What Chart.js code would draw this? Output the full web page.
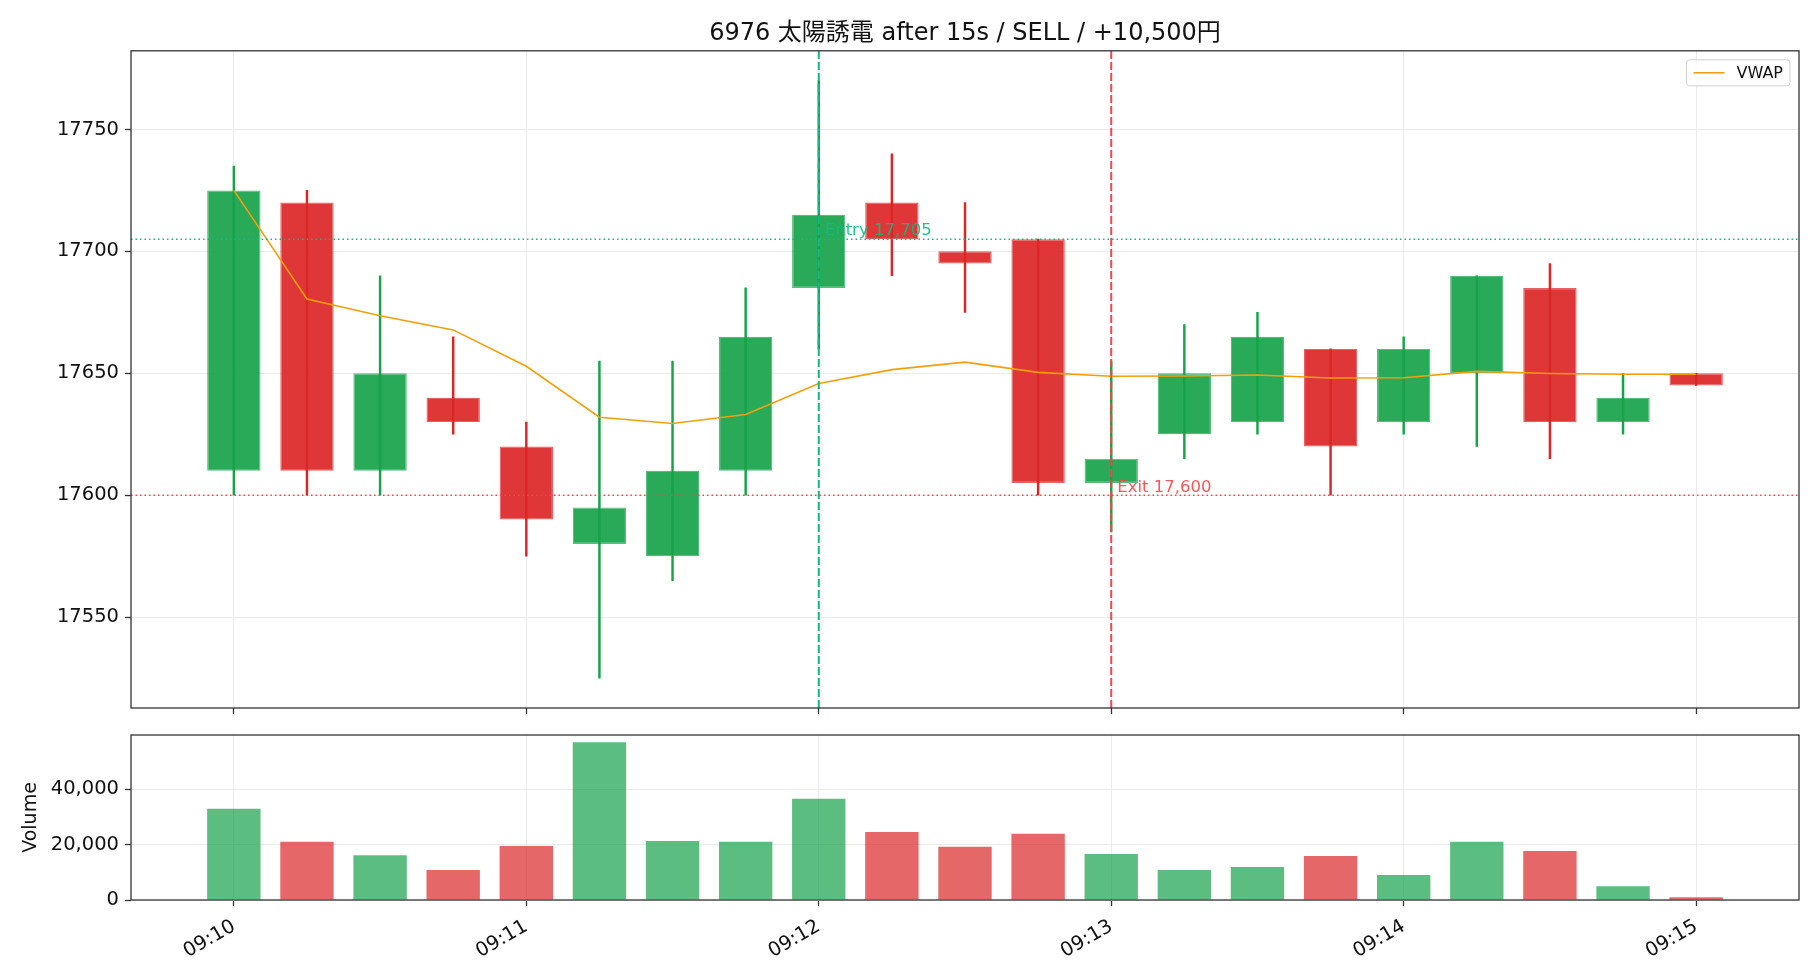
<!DOCTYPE html>
<html><head><meta charset="utf-8">
<script src="https://cdn.jsdelivr.net/npm/chart.js@4.4.1/dist/chart.umd.min.js"></script>
<style>
html,body{margin:0;padding:0;background:#fff;}
#wrap{position:relative;width:1820px;height:980px;background:#fff;}
#c1{position:absolute;left:0;top:0;}
#c2{position:absolute;left:0;top:720px;}
</style></head><body>
<div id="wrap">
<canvas id="c1" width="1820" height="720"></canvas>
<canvas id="c2" width="1820" height="260"></canvas>
</div>
<script>
// ---------- data ----------
const titleText = '6976 太陽誘電 after 15s / SELL / +10,500円';
const candleTimes = ['09:10:00','09:10:15','09:10:30','09:10:45','09:11:00','09:11:15','09:11:30','09:11:45',
  '09:12:00','09:12:15','09:12:30','09:12:45','09:13:00','09:13:15','09:13:30','09:13:45',
  '09:14:00','09:14:15','09:14:30','09:14:45','09:15:00'];
const opens  = [17610,17720,17610,17640,17620,17580,17575,17610,17685,17720,17700,17705,17605,17625,17630,17660,17630,17650,17685,17630,17650];
const highs  = [17735,17725,17690,17665,17630,17655,17655,17685,17770,17740,17720,17705,17655,17670,17675,17660,17665,17690,17695,17650,17650];
const lows   = [17600,17600,17600,17625,17575,17525,17565,17600,17660,17690,17675,17600,17585,17615,17625,17600,17625,17620,17615,17625,17645];
const closes = [17725,17610,17650,17630,17590,17595,17610,17665,17715,17705,17695,17605,17615,17650,17665,17620,17660,17690,17630,17640,17645];
const volumes = [33000,21000,16200,10800,19500,57000,21300,21000,36600,24600,19200,23900,16600,10800,11900,15900,9000,21000,17700,5000,1000];
const vwap = [17725,17680.5,17673.6,17667.8,17652.9,17632,17629.4,17633.1,17645.8,17651.5,17654.6,17650.4,17648.8,17648.9,17649.3,17648.1,17648.2,17650.8,17649.9,17649.6,17649.6];
const tickTimes  = ['09:10:00','09:11:00','09:12:00','09:13:00','09:14:00','09:15:00'];
const tickLabels = ['09:10','09:11','09:12','09:13','09:14','09:15'];
const priceTicks  = [17550,17600,17650,17700,17750];
const volumeTicks = [0,20000,40000];
const entryTime = '09:12:00', entryPrice = 17705;
const exitTime  = '09:13:00', exitPrice  = 17600;
const legendLabel = 'VWAP';

// ---------- setup ----------
const FONT = "'DejaVu Sans','Noto Sans CJK JP',sans-serif";
const toSec = s => { const p = s.split(':').map(Number); return (p[0]*3600 + p[1]*60 + p[2]) - (9*3600 + 10*60); };
const xs = candleTimes.map(toSec);
const tickSecs = tickTimes.map(toSec);
const X_MIN = -21.1, X_MAX = 321.1;
const Y_MIN = 17512.75, Y_MAX = 17782.25;
const V_MAX = 59600;
const up = i => closes[i] >= opens[i];

const GREEN_BODY = 'rgba(22,163,74,0.92)', GREEN_EDGE = 'rgba(22,163,74,0.72)', GREEN_WICK = '#16a34a';
const RED_BODY = 'rgba(220,38,38,0.92)', RED_EDGE = 'rgba(220,38,38,0.72)', RED_WICK = '#dc2626';
const GREEN_VOL = 'rgba(22,163,74,0.7)', RED_VOL = 'rgba(220,38,38,0.7)';
const ENTRY_C = '#10b981', EXIT_C = '#f0474d', VWAP_C = '#f59e0b';
const GRID = '#ebebeb', AXIS = '#333';

const noPad = s => { s.paddingTop = 0; s.paddingBottom = 0; s.paddingLeft = 0; s.paddingRight = 0; };

const framePlugin = {
  id: 'frame',
  afterDraw(chart) {
    const {ctx, chartArea: a} = chart;
    ctx.save();
    ctx.strokeStyle = AXIS; ctx.lineWidth = 1.3;
    ctx.strokeRect(a.left, a.top, a.right - a.left, a.bottom - a.top);
    ctx.restore();
  }
};

const overlayPlugin = {
  id: 'overlay',
  afterDatasetsDraw(chart) {
    const {ctx, chartArea: a, scales} = chart;
    ctx.save();
    ctx.font = '16.5px ' + FONT;
    ctx.textBaseline = 'alphabetic';
    ctx.textAlign = 'left';
    ctx.fillStyle = ENTRY_C; ctx.globalAlpha = 0.9;
    ctx.fillText('Entry ' + entryPrice.toLocaleString('en-US'), scales.x.getPixelForValue(toSec(entryTime)) + 6, scales.y.getPixelForValue(entryPrice) - 4);
    ctx.fillStyle = EXIT_C;
    ctx.fillText('Exit ' + exitPrice.toLocaleString('en-US'), scales.x.getPixelForValue(toSec(exitTime)) + 6, scales.y.getPixelForValue(exitPrice) - 3);
    ctx.globalAlpha = 1;
    // legend
    ctx.font = '16px ' + FONT;
    const tw = ctx.measureText(legendLabel).width;
    const bw = 7 + 31 + 12 + tw + 7, bh = 26;
    const bx = a.right - 9 - bw, by = a.top + 9;
    ctx.beginPath();
    ctx.roundRect(bx, by, bw, bh, 3);
    ctx.fillStyle = 'rgba(255,255,255,0.85)'; ctx.fill();
    ctx.strokeStyle = '#d0d0d0'; ctx.lineWidth = 1; ctx.stroke();
    ctx.beginPath(); ctx.moveTo(bx + 7, by + bh/2); ctx.lineTo(bx + 38, by + bh/2);
    ctx.strokeStyle = VWAP_C; ctx.lineWidth = 1.6; ctx.stroke();
    ctx.fillStyle = '#111'; ctx.textBaseline = 'middle';
    ctx.fillText(legendLabel, bx + 50, by + bh/2 + 1);
    ctx.restore();
  }
};

const lineDs = (pts, color, width, dash) => ({
  type: 'line', data: pts, borderColor: color, borderWidth: width, borderDash: dash,
  pointRadius: 0, fill: false, order: 0, tension: 0
});

const ex = toSec(entryTime), xx = toSec(exitTime);
const gridOpts = { color: GRID, lineWidth: 1, tickColor: AXIS, tickLength: 6, tickWidth: 1.3, offset: false };

new Chart(document.getElementById('c1'), {
  type: 'bar',
  data: {
    datasets: [
      lineDs([{x: X_MIN, y: entryPrice}, {x: X_MAX, y: entryPrice}], ENTRY_C, 1.5, [1.5, 3]),
      lineDs([{x: X_MIN, y: exitPrice}, {x: X_MAX, y: exitPrice}], EXIT_C, 1.5, [1.5, 3]),
      lineDs([{x: ex, y: Y_MIN}, {x: ex, y: Y_MAX}], ENTRY_C, 2, [8, 3]),
      lineDs([{x: xx, y: Y_MIN}, {x: xx, y: Y_MAX}], EXIT_C, 2, [8, 3]),
      { type: 'line', label: legendLabel, data: xs.map((x, i) => ({x, y: vwap[i]})),
        borderColor: VWAP_C, borderWidth: 1.6, pointRadius: 0, fill: false, order: 1, tension: 0 },
      { type: 'bar', data: xs.map((x, i) => ({x, y: [lows[i], highs[i]]})),
        backgroundColor: c => up(c.dataIndex) ? GREEN_WICK : RED_WICK,
        barThickness: 1.8, grouped: false, order: 2 },
      { type: 'bar', data: xs.map((x, i) => ({x, y: [opens[i], closes[i]]})),
        backgroundColor: c => up(c.dataIndex) ? GREEN_BODY : RED_BODY,
        borderColor: c => up(c.dataIndex) ? GREEN_EDGE : RED_EDGE,
        borderWidth: 1.2, borderSkipped: false,
        barPercentage: 0.73, categoryPercentage: 1, grouped: false, order: 3 }
    ]
  },
  options: {
    responsive: false, animation: false, events: [],
    layout: { padding: { left: 0, right: 21, top: 0, bottom: 0 } },
    plugins: {
      legend: { display: false }, tooltip: { enabled: false },
      title: { display: true, text: titleText, fullSize: false, color: '#111',
        font: { family: FONT, size: 24, weight: 'normal' }, padding: { top: 19, bottom: 3 } }
    },
    scales: {
      x: { type: 'linear', min: X_MIN, max: X_MAX, offset: false,
        afterBuildTicks: s => { s.ticks = tickSecs.map(v => ({value: v})); },
        ticks: { display: false },
        grid: gridOpts,
        border: { display: false },
        afterFit: s => { s.height = 12; noPad(s); } },
      y: { type: 'linear', min: Y_MIN, max: Y_MAX,
        afterBuildTicks: s => { s.ticks = priceTicks.map(v => ({value: v})); },
        ticks: { color: '#111', padding: 6, font: { family: FONT, size: 19.5 }, callback: v => String(v) },
        grid: gridOpts,
        border: { display: false },
        afterFit: s => { s.width = 131; noPad(s); } }
    }
  },
  plugins: [framePlugin, overlayPlugin]
});

new Chart(document.getElementById('c2'), {
  type: 'bar',
  data: {
    datasets: [
      { data: xs.map((x, i) => ({x, y: volumes[i]})),
        backgroundColor: c => up(c.dataIndex) ? GREEN_VOL : RED_VOL,
        barPercentage: 0.73, categoryPercentage: 1 }
    ]
  },
  options: {
    responsive: false, animation: false, events: [],
    layout: { padding: { left: 0, right: 21, top: 15, bottom: 0 } },
    plugins: { legend: { display: false }, tooltip: { enabled: false } },
    scales: {
      x: { type: 'linear', min: X_MIN, max: X_MAX, offset: false,
        afterBuildTicks: s => { s.ticks = tickSecs.map(v => ({value: v})); },
        ticks: { color: '#111', padding: 9, minRotation: 30, maxRotation: 30,
          font: { family: FONT, size: 19.5 },
          callback: v => tickLabels[tickSecs.indexOf(v)] },
        grid: gridOpts,
        border: { display: false },
        afterFit: s => { s.height = 80; noPad(s); } },
      y: { type: 'linear', min: 0, max: V_MAX,
        afterBuildTicks: s => { s.ticks = volumeTicks.map(v => ({value: v})); },
        ticks: { color: '#111', padding: 6, font: { family: FONT, size: 19.5 },
          callback: v => v.toLocaleString('en-US') },
        title: { display: true, text: 'Volume', color: '#111', font: { family: FONT, size: 19 }, padding: { top: 20, bottom: 0 } },
        grid: gridOpts,
        border: { display: false },
        afterFit: s => { s.width = 131; noPad(s); } }
    }
  },
  plugins: [framePlugin]
});
</script>
</body></html>
